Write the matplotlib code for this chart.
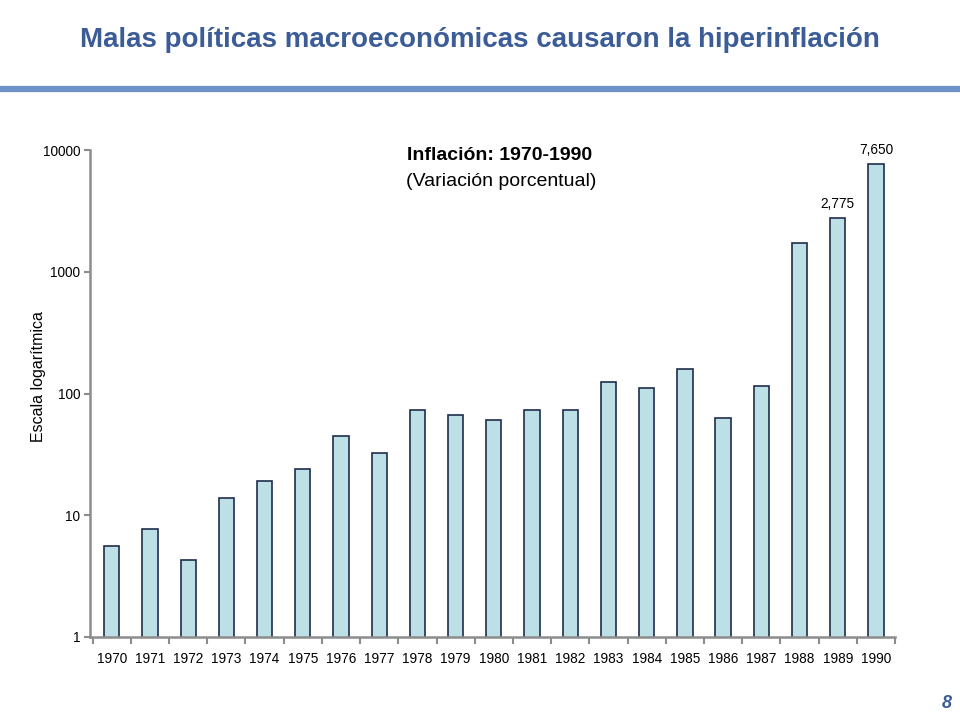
import matplotlib
matplotlib.use("Agg")
import matplotlib.pyplot as plt
from matplotlib.lines import Line2D
import numpy as np

plt.rcParams['font.family'] = ['Liberation Sans', 'DejaVu Sans']

years = [str(y) for y in range(1970, 1991)]
inflation = [5.6, 7.7, 4.3, 13.8, 19.1, 24.0, 44.7, 32.4, 73.7, 66.7, 60.8,
             72.7, 72.9, 125.1, 111.5, 158.3, 62.9, 114.5, 1722.0, 2775.0, 7650.0]
labels = {"1989": "2,775", "1990": "7,650"}
yticks = [1, 10, 100, 1000, 10000]

fig = plt.figure(figsize=(9.6, 7.2), dpi=100)
ax = fig.add_axes([90/960, 1-637/720, (895-90)/960, (637-150)/720])

x = np.arange(len(years))
ax.bar(x, inflation, width=0.4, color='#BDE0E6', edgecolor='#1F2D4C', linewidth=1.2, zorder=2)
ax.set_yscale('log')
ax.set_ylim(1, 10000)
ax.set_xlim(-0.57, 20.5)
ax.set_yticks(yticks)
ax.set_yticklabels([str(v) for v in yticks])
ax.yaxis.set_minor_locator(matplotlib.ticker.NullLocator())
ax.set_xticks(x)
ax.set_xticklabels(years)
ax.set_xticks(np.arange(-0.5, len(years), 1.0), minor=True)
ax.tick_params(axis='x', which='major', length=0, pad=11, labelsize=9.8, colors='black')
ax.tick_params(axis='x', which='minor', length=5, width=1.5, color='#8C8C8C', direction='out')
ax.tick_params(axis='y', which='major', length=4, width=1.5, color='#8C8C8C', labelsize=9.8, pad=3)
for s in ['top', 'right']:
    ax.spines[s].set_visible(False)
for s in ['left', 'bottom']:
    ax.spines[s].set_color('#8C8C8C')
    ax.spines[s].set_linewidth(1.8)
ax.set_ylabel('Escala logarítmica', fontsize=11.5)
ax.yaxis.set_label_coords(-44/805, (637-377)/487)

for i, y in enumerate(years):
    if y in labels:
        ax.annotate(labels[y], (i, inflation[i]), xytext=(0, 5), textcoords='offset points',
                    ha='center', va='bottom', fontsize=9.8)

fig.text(500/960, 1-156/720, 'Inflación: 1970-1990', ha='center', va='center',
         fontsize=14, fontweight='bold')
fig.text(501/960, 1-181/720, '(Variación porcentual)', ha='center', va='center', fontsize=14)

fig.text(480/960, 1-40/720, 'Malas políticas macroeconómicas causaron la hiperinflación',
         ha='center', va='center', fontsize=20, fontweight='bold', color='#3B5C96')
fig.add_artist(Line2D([0, 1], [1-89/720, 1-89/720], transform=fig.transFigure,
                      color='#6E92C7', linewidth=4.5))
fig.text(947/960, 1-703/720, '8', ha='center', va='center', fontsize=13,
         fontweight='bold', fontstyle='italic', color='#3B5C96')

fig.savefig('out.png', dpi=100)
